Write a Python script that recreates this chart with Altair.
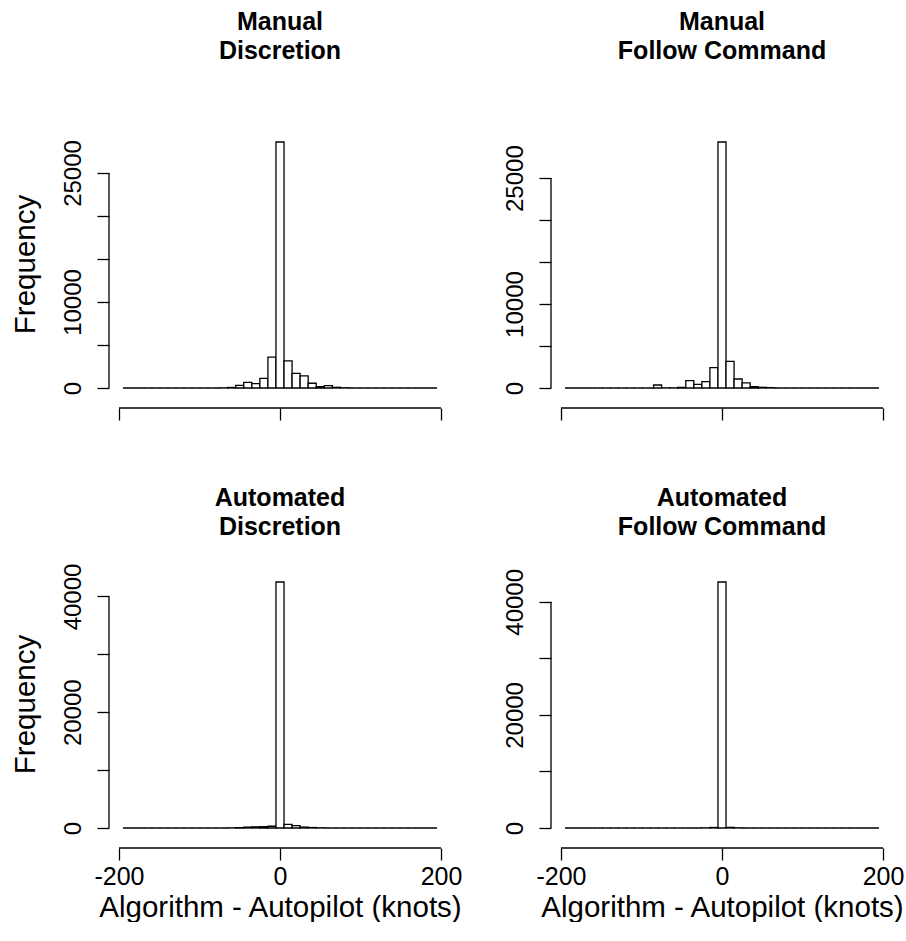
import altair as alt
import pandas as pd

# Histogram bins: 10-knot wide, edges from -195 to 195
bin_left = [-195, -185, -175, -165, -155, -145, -135, -125, -115, -105,
            -95, -85, -75, -65, -55, -45, -35, -25, -15, -5,
            5, 15, 25, 35, 45, 55, 65, 75, 85, 95,
            105, 115, 125, 135, 145, 155, 165, 175, 185]
bin_right = [b + 10 for b in bin_left]

# Frequencies per bin for each flight mode / instruction group
manual_discretion = [0, 0, 0, 0, 0, 0, 0, 0, 0, 0, 0, 0,
                     20, 60, 310, 660, 520, 1130, 3580, 28600, 3150, 1710, 1400, 550,
                     160, 280, 80, 30,
                     0, 0, 0, 0, 0, 0, 0, 0, 0, 0, 0]
manual_follow = [0, 0, 0, 0, 0, 0, 0, 0, 0, 0, 0,
                 360, 20, 20, 60, 870, 440, 760, 2430, 29300, 3180, 1070, 600, 170,
                 80, 40,
                 0, 0, 0, 0, 0, 0, 0, 0, 0, 0, 0, 0, 0]
automated_discretion = [0, 0, 0, 0, 0, 0, 0, 0, 0, 0, 0, 0, 0,
                        30, 80, 150, 200, 250, 300, 42500, 620, 400, 150, 80, 40,
                        0, 0, 0, 0, 0, 0, 0, 0, 0, 0, 0, 0, 0, 0]
automated_follow = [0, 0, 0, 0, 0, 0, 0, 0, 0, 0, 0, 0, 0, 0, 0, 0, 0,
                    30, 90, 43500, 110, 40,
                    0, 0, 0, 0, 0, 0, 0, 0, 0, 0, 0, 0, 0, 0, 0, 0, 0]

x_ticks = [-200, 0, 200]
x_title = "Algorithm - Autopilot (knots)"
y_title = "Frequency"

# Axis ticks and the subset that carries a label
ticks_manual = [0, 5000, 10000, 15000, 20000, 25000]
labels_manual = [0, 10000, 25000]
ticks_auto = [0, 10000, 20000, 30000, 40000]
labels_auto = [0, 20000, 40000]

FONT = "Liberation Sans, Arial, Helvetica"
W, H = 342, 276
TOP_GAP, BASE_GAP = 10, 20   # space above tallest bar / below zero line
LINE_W = 1.3


def panel(counts, title_lines, ticks, labeled, bottom_row, first_col, title_offset):
    df = pd.DataFrame({"lo": bin_left, "hi": bin_right, "n": counts})
    peak = max(counts)
    per_px = peak / (H - TOP_GAP - BASE_GAP)
    yscale = alt.Scale(domain=[-BASE_GAP * per_px, peak + TOP_GAP * per_px],
                       nice=False, zero=False)
    xscale = alt.Scale(domain=[-212.4, 212.4], nice=False, zero=False)

    label_test = "indexof(" + str(labeled) + ", datum.value) >= 0 ? '' + datum.value : ''"
    yaxis_kw = dict(values=ticks, domain=False, grid=False, tickSize=12,
                    tickColor="black", tickWidth=LINE_W,
                    labelExpr=label_test, labelOverlap=False, labelAngle=270,
                    labelAlign="center", labelBaseline="alphabetic",
                    labelPadding=17, labelFont=FONT, labelFontSize=24,
                    labelColor="black")
    if first_col:
        yaxis_kw.update(title=y_title, titleFont=FONT, titleFontSize=29.5,
                        titleFontWeight="normal", titleAngle=270,
                        titleAlign="center", titleBaseline="middle",
                        titleX=-84, titleY=132, titleColor="black")
    else:
        yaxis_kw.update(title=None)
    yaxis = alt.Axis(**yaxis_kw)

    xaxis_kw = dict(values=x_ticks, domain=False, grid=False, tickSize=12,
                    tickColor="black", tickWidth=LINE_W, labelFont=FONT,
                    labelFontSize=25, labelColor="black", labelPadding=4,
                    labelFlush=False, labelOverlap=False,
                    labelExpr="datum.value < 0 ? '-' + abs(datum.value) : '' + datum.value")
    if bottom_row:
        xaxis_kw.update(labels=True, title=x_title, titleFont=FONT,
                        titleFontSize=29.5, titleFontWeight="normal",
                        titlePadding=4, titleColor="black")
    else:
        xaxis_kw.update(labels=False, title=None)
    xaxis = alt.Axis(**xaxis_kw)

    bars = alt.Chart(df).mark_rect(
        fill="white", stroke="black", strokeWidth=LINE_W
    ).encode(
        x=alt.X("lo:Q", scale=xscale, axis=xaxis),
        x2="hi:Q",
        y=alt.Y("n:Q", scale=yscale, axis=yaxis),
        y2=alt.datum(0),
    )

    xline_df = pd.DataFrame({"a": [x_ticks[0]], "b": [x_ticks[-1]]})
    xline = alt.Chart(xline_df).mark_rule(
        color="black", strokeWidth=LINE_W
    ).encode(x=alt.X("a:Q", scale=xscale), x2="b:Q", y=alt.value(H))

    yline_df = pd.DataFrame({"a": [ticks[0]], "b": [ticks[-1]]})
    yline = alt.Chart(yline_df).mark_rule(
        color="black", strokeWidth=LINE_W
    ).encode(y=alt.Y("a:Q", scale=yscale), y2="b:Q", x=alt.value(0))

    return alt.layer(bars, xline, yline).properties(
        width=W, height=H,
        title=alt.TitleParams(text=title_lines, font=FONT, fontSize=25,
                              fontWeight="bold", color="black",
                              anchor="middle", frame="group",
                              lineHeight=29, offset=title_offset),
    )


chart = alt.concat(
    panel(manual_discretion, ["Manual", "Discretion"], ticks_manual, labels_manual,
          False, True, 68),
    panel(manual_follow, ["Manual", "Follow Command"], ticks_manual, labels_manual,
          False, False, 68),
    panel(automated_discretion, ["Automated", "Discretion"], ticks_auto, labels_auto,
          True, True, 23),
    panel(automated_follow, ["Automated", "Follow Command"], ticks_auto, labels_auto,
          True, False, 28),
    columns=2,
    spacing={"row": 164, "column": 100},
    bounds="flush",
).properties(
    padding={"left": 10, "top": 10, "right": 0, "bottom": 0},
    background="white",
).configure_view(stroke=None)

chart.save("out.html", embed_options={"renderer": "svg", "actions": False})
